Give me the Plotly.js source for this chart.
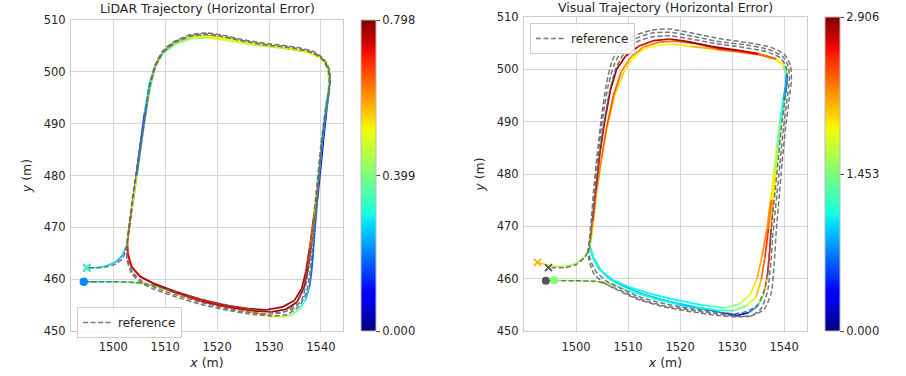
<!DOCTYPE html>
<html><head><meta charset="utf-8">
<script src="https://cdn.plot.ly/plotly-3.0.1.min.js"></script>
<style>html,body{margin:0;padding:0;background:#fff;}#chart{width:906px;height:376px;}</style>
</head><body><div id="chart"></div>
<script>
// ---------------- DATA ----------------
const lidarErrMax = 0.798;
const visualErrMax = 2.906;
const xTicks = [1500, 1510, 1520, 1530, 1540];
const yTicks = [450, 460, 470, 480, 490, 500, 510];
const lidarCbTicks = ['0.000', '0.399', '0.798'];
const visualCbTicks = ['0.000', '1.453', '2.906'];

// LiDAR estimate (x, y, horizontal error)
const lidarX = [1494.3,1497,1500,1503,1505.5,1507.5,1510,1515,1520,1525,1528.5,1531,1532.8,1534.5,1535.9,1537,1537.8,1538.2,1538.5,1538.8,1539.3,1539.9,1540.5,1541.1,1541.6,1541.8,1541.2,1539.6,1536,1532,1527,1522,1518,1515,1512,1509.5,1508,1507,1506,1505.2,1504.4,1503.6,1503,1502.7,
 1502.9,1503.6,1505.3,1508,1512,1517,1522,1527,1530.5,1533.3,1535.4,1536.8,1537.6,1538.2,1538.8,1539.4,1540.1,1540.8,1541.4,1541.7,1541.3,1540,1537.5,1533,1528,1523,1519,1515.5,1512,1509.5,1508.1,1507.2,1506.1,1505.1,1504.1,1503.2,1502.7,
 1502.8,1503.4,1505,1507.7,1512,1517,1522,1526,1529.5,1532.5,1534.9,1536.3,1537.1,1537.8,1538.6,1539.3,1540,1540.7,1541.3,1541.6,1541.1,1539.7,1536,1531,1526,1521,1517,1513.5,1510.5,1508.6,1507.6,1506.5,1505.5,1504.5,1503.5,1502.8,1502.5,
 1501.7,1500.5,1498.5,1496.5,1494.9];
const lidarY = [459.5,459.5,459.5,459.4,459.2,458.8,458,456.4,455.1,454,453.3,452.8,452.7,453.2,454.3,456,458.5,461.5,465,469,475,481,487,492.5,496.5,499.3,501.5,503.1,504.1,504.6,505.2,506,506.6,506.4,505.4,503.5,501,498,492,486,480,474,470,467,
 464.5,462.3,460.4,459,457.4,455.7,454.6,453.9,453.7,454.2,455.6,458.5,462.5,467,472,478,485,491,495.5,498.5,501,502.7,503.8,504.6,505.3,506.2,506.9,506.9,505.8,503.8,501,497.5,491,484,477,471,467.2,
 465,462.6,460.6,459.2,457.6,456,454.9,454.3,454.1,454.6,455.9,458.2,461.5,466,472,478,485,491,495.5,498.5,501.2,502.9,504.2,504.9,505.6,506.5,506.9,506.5,505,502.5,499.5,494,487,480,473,468.5,466.3,
 464.5,463.3,462.5,462.2,462.2];
const lidarErr = [0.21,0.3,0.37,0.42,0.45,0.45,0.5,0.52,0.55,0.58,0.55,0.5,0.47,0.42,0.36,0.28,0.2,0.17,0.16,0.2,0.16,0.1,0.08,0.1,0.2,0.35,0.42,0.45,0.45,0.42,0.45,0.48,0.45,0.42,0.38,0.35,0.35,0.3,0.2,0.12,0.15,0.3,0.4,0.55,
 0.65,0.7,0.72,0.75,0.7,0.72,0.76,0.78,0.78,0.78,0.77,0.76,0.72,0.65,0.55,0.42,0.3,0.25,0.3,0.4,0.5,0.55,0.58,0.6,0.58,0.6,0.62,0.62,0.6,0.58,0.6,0.62,0.55,0.6,0.7,0.72,0.7,
 0.72,0.74,0.75,0.78,0.76,0.74,0.72,0.74,0.76,0.78,0.79,0.78,0.76,0.72,0.6,0.45,0.3,0.2,0.38,0.45,0.48,0.5,0.5,0.48,0.52,0.5,0.5,0.45,0.42,0.4,0.4,0.32,0.15,0.3,0.65,0.55,0.3,
 0.2,0.25,0.28,0.3,0.32];

// LiDAR panel reference
const lidarRefX = [1494.3,1500,1504,1507,1510,1515,1520,1525,1529,1532,1534.5,1536.3,1537.2,1537.9,1538.6,1539.5,1540.4,1541.2,1541.8,1541.6,1540.6,1538.8,1535,1530,1525,1521,1518,1515,1512,1509.5,1508,1507,1505.8,1504.6,1503.6,1503,1502.6,
 1502.6,1503.6,1505.5,1508,1512,1517,1522,1527,1530.5,1533.5,1535.8,1537.2,1537.9,1538.5,1539.4,1540.3,1541.1,1541.7,1541.5,1540.5,1538.6,1535,1530,1525,1521,1518,1515,1512,1509.6,1508.1,1507.1,1505.9,1504.7,1503.7,1503.1,1502.6,
 1502.7,1503.8,1505.8,1508.3,1512,1517,1522,1527,1530.5,1533,1535.2,1536.5,1537.3,1538,1539,1540,1540.9,1541.6,1541.4,1540.4,1538.5,1535,1530,1525,1521,1518,1515,1512,1509.6,1508.1,1507.1,1505.9,1504.7,1503.7,1503.1,1502.6,
 1501.8,1500.2,1498,1496,1494.9];
const lidarRefY = [459.5,459.5,459.4,459,458.2,456.7,455.4,454.4,453.9,453.6,454.2,456,459.5,464,470,479,488,494,498,500.5,502.4,503.8,504.8,505.4,506.2,507.1,507.5,507.2,506,504,501.2,497.5,490,482,475,470,466.5,
 463.8,461,459.2,458,456.6,455.1,454,453.2,452.9,453.2,454.8,457.5,461.5,467,477,487,493.5,497.8,500.4,502.3,503.7,504.6,505.2,506,506.9,507.3,507,505.8,503.8,501,497.5,490,482,475,470,466.5,
 464,461.2,459.4,458.3,457,455.5,454.3,453.5,453.3,453.7,455.2,458,462,467,476,486,493,497.5,500.3,502.2,503.6,504.5,505.1,505.9,506.8,507.2,506.9,505.7,503.7,500.9,497.4,490,482,475,470,466.5,
 464,462.8,462.3,462.2,462.2];

// Visual estimate (x, y, horizontal error)
const visualX = [1495.8,1500,1503.5,1506,1508,1510,1515,1520,1525,1528.5,1531,1533.2,1535,1536.1,1536.8,1537.2,1537.5,1537.9,1538.4,1538.9,1539.4,1540,1540.5,1540.6,1540,1538.5,1535,1531.5,1526,1521,1518,1515,1512,1509.5,1507.8,1506.6,1505.5,1504.6,1503.8,1503.2,1502.8,1502.6,
 1503.1,1504.3,1506.4,1509,1513,1518,1523,1527,1530.4,1532.8,1534.6,1535.6,1536.3,1537,1537.6,1538.2,1538.8,1539.3,1539.9,1540.4,1540.5,1539.9,1538.4,1535,1531.5,1527,1523,1519,1516,1513,1510.6,1508.7,1507.2,1505.9,1504.9,1504,1503.3,1502.9,1502.7,
 1503.4,1504.8,1507,1510,1514,1519,1524,1528.5,1531.5,1533.5,1534.8,1535.8,1536.7,1537.4,1538,1538.6,1539.2,1539.8,1540.3,1540.4,1539.8,1538.2,1535,1531.5,1527,1522,1518.5,1515.5,1512.8,1510.7,1509.2,1507.4,1506,1504.9,1504,1503.3,1502.9,1502.6,
 1501.5,1499.8,1497.8,1495.5,1493.8,1492.6];
const visualY = [459.7,459.6,459.5,459.2,458.5,457.7,456.2,455,454.1,453.4,453,453.5,454.8,457,460.5,465,469.5,475,480,485,490,494,497,499,500.8,502,503,503.6,504.4,505.4,505.8,505.5,504.4,502.5,500,496,490,484,477,471,467.5,466.2,
 464.3,462,460,458.6,457,455.6,454.6,454,453.9,454.8,456.5,459.8,464,469.5,475,480,485,490,494,497,499,500.8,502,502.9,503.5,504,504.9,505.4,505.2,504.3,502.4,499.6,495,489,483,477,471,467.5,466.3,
 464,461.6,459.8,458.5,457.2,456,455,454.4,455.2,457,460,464.5,469.5,475,480,485,490,494,497,499,500.8,502,502.8,503.3,503.8,504.4,504.8,504.6,503.8,501.8,499.5,495,489,483,477,471,467.5,465.8,
 464,462.8,462.3,462.4,462.8,463.1];
const visualErr = [1.5,1.6,1.6,1.55,1.4,1.2,1.1,1.0,0.9,0.6,0.35,0.5,1.1,1.8,2.4,2.7,2.4,2.0,1.8,1.55,1.3,1.0,0.6,1.0,1.6,2.1,2.6,2.8,2.85,2.8,2.75,2.7,2.7,2.75,2.8,2.85,2.8,2.75,2.6,2.4,2.0,1.1,
 1.05,1.0,0.95,0.95,0.9,0.95,1.0,1.1,1.35,1.6,1.9,2.2,2.5,2.5,2.05,1.8,1.55,1.3,1.0,0.65,1.05,1.65,2.1,2.5,2.6,2.5,2.4,2.3,2.25,2.2,2.2,2.3,2.35,2.4,2.3,2.2,2.1,1.8,1.1,
 1.1,1.05,1.05,1.1,1.05,1.05,1.1,1.35,1.6,1.85,2.05,2.2,2.3,2.0,1.8,1.55,1.3,1.0,0.7,1.1,1.7,2.1,2.3,2.35,2.2,2.0,1.85,1.8,1.85,1.9,2.0,2.05,2.0,1.9,1.85,1.8,1.7,1.65,
 1.6,1.6,1.6,1.75,1.9,2.1];

// Visual panel reference
const visualRefX = [1494.2,1500,1504.5,1507.5,1512,1517,1522,1527,1531,1534,1536.2,1537.5,1538.1,1538.5,1539,1539.6,1540.3,1541,1541.4,1541.2,1540.1,1537.5,1533,1528,1523,1518,1514.5,1511,1508.6,1506.9,1505.8,1504.9,1504.1,1503.4,1502.9,1502.5,1502.3,
 1502.5,1503.4,1505.2,1508,1512,1517,1522,1527,1531,1533.7,1535.6,1536.8,1537.4,1537.9,1538.5,1539.2,1539.9,1540.6,1541,1540.8,1539.7,1537,1532.5,1527.5,1522.5,1518,1514.5,1511.3,1509,1507.3,1506.1,1505.1,1504.3,1503.6,1503,1502.6,1502.4,
 1502.7,1503.8,1505.8,1508.5,1512,1517,1522,1527,1530.5,1533,1534.9,1536.3,1537,1537.5,1538.1,1538.8,1539.5,1540.2,1540.6,1540.4,1539.3,1536.5,1532,1527,1522,1518,1514.5,1511.6,1509.4,1507.7,1506.5,1505.4,1504.5,1503.8,1503.1,1502.7,1502.5,
 1501.6,1500,1497.8,1495.8,1494.7];
const visualRefY = [459.6,459.6,459.4,458.2,456.2,454.8,454,453.3,452.8,453,454.2,457.2,462.9,469.3,475,482,489,494.5,498,500.8,502.8,504.2,505.1,505.8,506.8,507.7,507.5,506.3,504.6,501.5,497,491,484,477,471,467,465.5,
 463.5,461,459.3,457.8,456,454.6,453.7,453,452.7,452.9,454.3,457.5,462.5,469,475,482,489,494.5,498,500.6,502.5,503.8,504.7,505.3,506.3,507.1,506.9,505.8,503.9,500.8,496.5,490.5,484,477,471,467,465.5,
 463.8,461.4,459.6,458.2,456.6,455.2,454.3,453.6,453.3,453.8,455,458.2,462.9,469,475,482,489,494.5,498,500.4,502.2,503.4,504.2,504.9,505.8,506.4,506.2,505.2,503.3,500.3,496,490,483.5,477,471,467,465.5,
 464,462.7,462.1,462.1,462.1];

// ---------------- COLORMAP (matplotlib jet) ----------------
const jetR = [[0,0],[0.35,0],[0.66,1],[0.89,1],[1,0.5]];
const jetG = [[0,0],[0.125,0],[0.375,1],[0.64,1],[0.91,0],[1,0]];
const jetB = [[0,0.5],[0.11,1],[0.34,1],[0.65,0],[1,0]];
function interp(seg, t){
  for (let i=1;i<seg.length;i++){
    if (t<=seg[i][0]){const a=seg[i-1],b=seg[i];const f=(t-a[0])/(b[0]-a[0]);return a[1]+f*(b[1]-a[1]);}
  }
  return seg[seg.length-1][1];
}
function jet(t){
  t=Math.max(0,Math.min(1,t));
  return 'rgb('+Math.round(255*interp(jetR,t))+','+Math.round(255*interp(jetG,t))+','+Math.round(255*interp(jetB,t))+')';
}
const jetScale=[];
for(let i=0;i<=40;i++){jetScale.push([i/40,jet(i/40)]);}

// ---------------- TRACES ----------------
const NB=64;
// chunk: number of consecutive segments kept in drawing order (Infinity = sort by error)
function colorSegments(xs,ys,es,emax,xa,ya,chunk){
  const out=[];
  const nseg=xs.length-1;
  for(let c0=0;c0<nseg;c0+=chunk){
    const bins={};
    for(let i=c0;i<Math.min(nseg,c0+chunk);i++){
      const v=(es[i]+es[i+1])/2/emax;
      const b=Math.min(NB-1,Math.max(0,Math.floor(v*NB)));
      if(!bins[b])bins[b]={x:[],y:[]};
      bins[b].x.push(xs[i],xs[i+1],null);bins[b].y.push(ys[i],ys[i+1],null);
    }
    Object.keys(bins).map(Number).sort((a,b)=>a-b).forEach(b=>{
      out.push({type:'scatter',mode:'lines',x:bins[b].x,y:bins[b].y,xaxis:xa,yaxis:ya,showlegend:false,hoverinfo:'skip',
        line:{color:jet((b+0.5)/NB),width:1.7}});
    });
  }
  return out;
}
function refTrace(xs,ys,xa,ya,leg){
  return {type:'scatter',mode:'lines',x:xs,y:ys,xaxis:xa,yaxis:ya,name:'reference',legend:leg,showlegend:true,
    line:{color:'rgba(95,95,95,0.85)',width:1.5,dash:'5px,2.5px',shape:'spline',smoothing:0.6}};
}
function refMarkers(xs,ys,xa,ya){
  const n=xs.length-1;
  return [
    {type:'scatter',mode:'markers',x:[xs[0]],y:[ys[0]],xaxis:xa,yaxis:ya,showlegend:false,
      marker:{symbol:'circle',size:8,color:'#555'}},
    {type:'scatter',mode:'markers',x:[xs[n]],y:[ys[n]],xaxis:xa,yaxis:ya,showlegend:false,
      marker:{symbol:'x-thin-open',size:7,color:'#555',line:{color:'#555',width:1.8}}}
  ];
}
function estMarkers(xs,ys,es,emax,xa,ya,cbx,cby,cblen,ticktext){
  const n=xs.length-1;
  const endCol=jet(es[n]/emax);
  return [
    {type:'scatter',mode:'markers',x:[xs[0]],y:[ys[0]],xaxis:xa,yaxis:ya,showlegend:false,
      marker:{symbol:'circle',size:8,color:[es[0]],cmin:0,cmax:emax,colorscale:jetScale,showscale:true,
        colorbar:{x:cbx,xanchor:'left',y:cby,yanchor:'middle',len:cblen,lenmode:'fraction',thickness:15,thicknessmode:'pixels',
          xpad:0,ypad:0,outlinewidth:1,outlinecolor:'#bbb',ticks:'outside',ticklen:4,tickwidth:1,tickcolor:'#444',
          tickvals:[0,emax/2,emax],ticktext:ticktext,tickfont:{family:'DejaVu Sans',size:11.5,color:'#262626'}}}},
    {type:'scatter',mode:'markers',x:[xs[n]],y:[ys[n]],xaxis:xa,yaxis:ya,showlegend:false,
      marker:{symbol:'x-thin-open',size:7,color:endCol,line:{color:endCol,width:1.8}}}
  ];
}

const traces=[].concat(
  colorSegments(lidarX,lidarY,lidarErr,lidarErrMax,'x','y',8),
  [refTrace(lidarRefX,lidarRefY,'x','y','legend')],
  refMarkers(lidarRefX,lidarRefY,'x','y'),
  estMarkers(lidarX,lidarY,lidarErr,lidarErrMax,'x','y',361/906,1-175.5/376,311/376,lidarCbTicks),
  colorSegments(visualX,visualY,visualErr,visualErrMax,'x2','y2',Infinity),
  [refTrace(visualRefX,visualRefY,'x2','y2','legend2')],
  refMarkers(visualRefX,visualRefY,'x2','y2'),
  estMarkers(visualX,visualY,visualErr,visualErrMax,'x2','y2',825/906,1-174/376,314/376,visualCbTicks)
);

// ---------------- LAYOUT ----------------
const font={family:'DejaVu Sans',size:11.5,color:'#262626'};
function xax(domain,range){
  return {domain:domain,range:range,tickvals:xTicks,ticktext:xTicks.map(String),showgrid:true,gridcolor:'#d6d6d6',gridwidth:1,
    zeroline:false,showline:true,linecolor:'#cccccc',linewidth:1,mirror:true,ticks:'',tickfont:font,ticklabelstandoff:5,
    title:{text:'<i>x</i> (m)',font:{family:'DejaVu Sans',size:12.5,color:'#262626'},standoff:5}};
}
function yax(domain,range,anchor){
  return {domain:domain,range:range,tickvals:yTicks,ticktext:yTicks.map(String),showgrid:true,gridcolor:'#d6d6d6',gridwidth:1,
    zeroline:false,showline:true,linecolor:'#cccccc',linewidth:1,mirror:true,ticks:'',tickfont:font,anchor:anchor,ticklabelstandoff:2,
    title:{text:'<i>y</i> (m)',font:{family:'DejaVu Sans',size:12.5,color:'#262626'},standoff:9}};
}
const layout={
  width:906,height:376,margin:{l:0,r:0,t:0,b:0},paper_bgcolor:'#fff',plot_bgcolor:'#fff',
  font:font,
  xaxis:Object.assign(xax([71/906,343/906],[1491.85,1544.25]),{anchor:'y'}),
  yaxis:yax([45/376,356/376],[450,510],'x'),
  xaxis2:Object.assign(xax([524/906,807/906],[1490.0,1544.4]),{anchor:'y2'}),
  yaxis2:yax([45/376,359/376],[450,510],'x2'),
  legend:{x:77/906,y:1-307/376,xanchor:'left',yanchor:'top',bgcolor:'rgba(255,255,255,0.85)',bordercolor:'#cccccc',borderwidth:1,
    font:{family:'DejaVu Sans',size:12,color:'#262626'},itemwidth:30,tracegroupgap:0},
  legend2:{x:530/906,y:1-23/376,xanchor:'left',yanchor:'top',bgcolor:'rgba(255,255,255,0.85)',bordercolor:'#cccccc',borderwidth:1,
    font:{family:'DejaVu Sans',size:12,color:'#262626'},itemwidth:30,tracegroupgap:0},
  annotations:[
    {text:'LiDAR Trajectory (Horizontal Error)',xref:'paper',yref:'paper',x:207/906,y:1-9/376,xanchor:'center',yanchor:'middle',showarrow:false,
      font:{family:'DejaVu Sans',size:12.5,color:'#262626'}},
    {text:'Visual Trajectory (Horizontal Error)',xref:'paper',yref:'paper',x:665/906,y:1-7.5/376,xanchor:'center',yanchor:'middle',showarrow:false,
      font:{family:'DejaVu Sans',size:12.5,color:'#262626'}}
  ]
};
Plotly.newPlot('chart',traces,layout,{staticPlot:true,displayModeBar:false});
</script></body></html>
